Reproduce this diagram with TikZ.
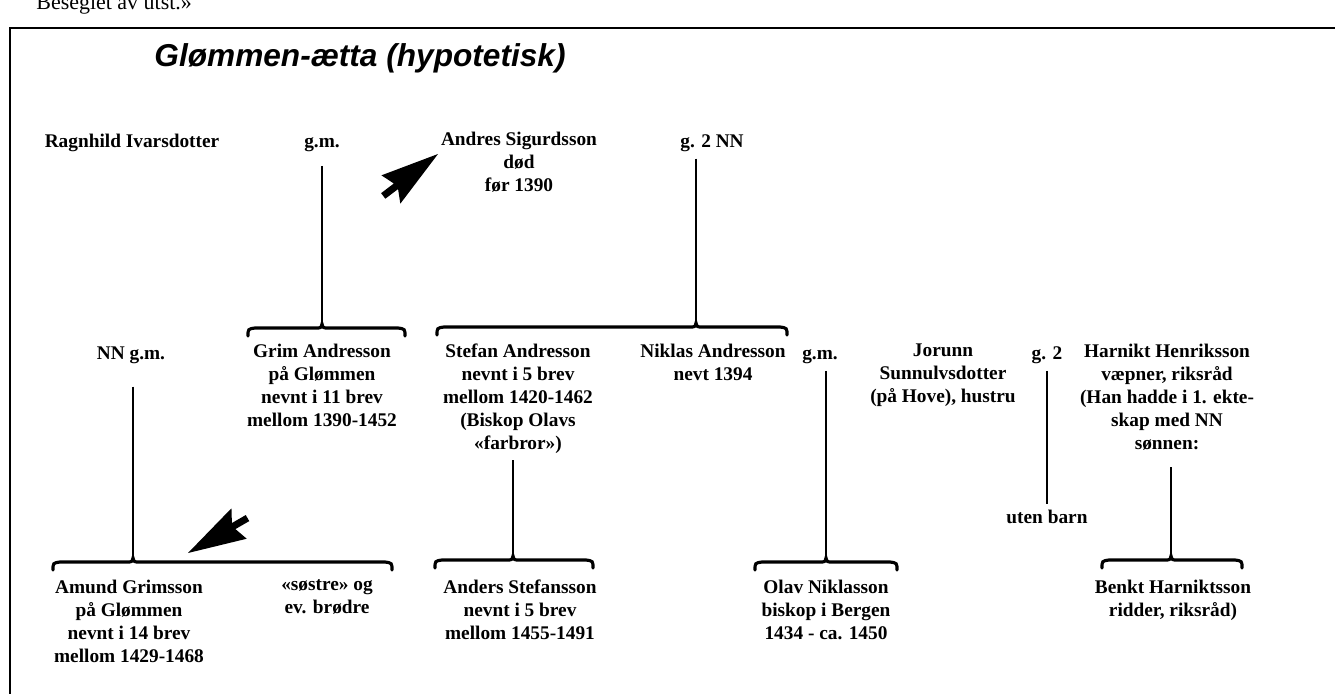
\documentclass[tikz,border=0pt]{standalone}
\usepackage{fontspec}
\setmainfont{Liberation Serif}
\newfontfamily\titlefont{Liberation Sans}
\usepackage{tikz}
\usetikzlibrary{positioning}

\begin{document}
\begin{tikzpicture}[x=0.02cm,y=-0.02cm,
   person/.style={font=\bfseries\fontsize{11}{13.1}\selectfont,align=center,anchor=north,inner sep=2pt,
                  execute at begin node=\strut},
   famline/.style={line width=1.1pt},
   brace/.style={line width=1.8pt,line cap=round},
   pointer/.style={fill=black}]
  \useasboundingbox (0,0) rectangle (1335,693);
  % frame and headings
  \node[font=\fontsize{12.5}{14}\selectfont,anchor=base west,inner sep=0pt] (cut) at (36,10) {Beseglet av utst.»};
  \draw[line width=0.8pt] (1345,28) -- (10,28) -- (10,700);
  \node[font=\titlefont\bfseries\itshape\fontsize{18}{21}\selectfont] (title) at (360,58) {Glømmen-ætta (hypotetisk)};

  % first generation
  \node[person] (ragnhild) at (132,128) {Ragnhild Ivarsdotter};
  \node[person] (gm1) at (322,128) {g.m.};
  \node[person] (andres) at (519,128) {Andres Sigurdsson\\død\\før 1390};
  \node[person] (g2nn) at (712,128) {g. 2 NN};

  % second generation
  \node[person] (nngm) at (131,340) {NN g.m.};
  \node[person] (grim) at (322,340) {Grim Andresson\\på Glømmen\\nevnt i 11 brev\\mellom 1390-1452};
  \node[person] (stefan) at (518,340) {Stefan Andresson\\nevnt i 5 brev\\mellom 1420-1462\\(Biskop Olavs\\«farbror»)};
  \node[person] (niklas) at (713,340) {Niklas Andresson\\nevt 1394};
  \node[person] (gm2) at (820,340) {g.m.};
  \node[person] (jorunn) at (943,340) {Jorunn\\Sunnulvsdotter\\(på Hove), hustru};
  \node[person] (g2) at (1047,340) {g. 2};
  \node[person] (harnikt) at (1167,340) {Harnikt Henriksson\\væpner, riksråd\\(Han hadde i 1. ekte-\\skap med NN\\sønnen:};
  \node[person] (utenbarn) at (1047,504) {uten barn};

  % third generation
  \node[person] (amund) at (129,576) {Amund Grimsson\\på Glømmen\\nevnt i 14 brev\\mellom 1429-1468};
  \node[person] (sostre) at (327,576) {«søstre» og\\ev. brødre};
  \node[person] (anders) at (520,576) {Anders Stefansson\\nevnt i 5 brev\\mellom 1455-1491};
  \node[person] (olav) at (826,576) {Olav Niklasson\\biskop i Bergen\\1434 - ca. 1450};
  \node[person] (benkt) at (1173,576) {Benkt Harniktsson\\ridder, riksråd)};

  % braces over the children
  \foreach \bname/\xa/\xb/\xj/\yb in {b1/248/405/322/328, b2/437/787/696/327, b3/53/392/133/562,
                                      b4/435/593/513/560, b5/755/897/826/562, b6/1102/1242/1171/560}{
    \draw[brace] ({\xa},{\yb+8}) .. controls ({\xa},{\yb+1}) .. ({\xa+7},\yb) -- ({\xj-7},\yb)
      .. controls ({\xj-1},\yb) .. ({\xj},{\yb-4}) .. controls ({\xj+1},\yb) .. ({\xj+7},\yb)
      -- ({\xb-7},\yb) .. controls ({\xb},{\yb+1}) .. ({\xb},{\yb+8});
    \coordinate (\bname) at ({\xj},{\yb-3});
  }

  % lines of descent
  \draw[famline] ([yshift=-4pt]gm1.south) -- (b1);
  \draw[famline] (b2 |- g2nn.south) -- (b2);
  \draw[famline] ([yshift=-9pt]nngm.south -| b3) -- (b3);
  \draw[famline] (b4 |- stefan.south) -- (b4);
  \draw[famline] (gm2.south -| b5) -- (b5);
  \draw[famline] (g2) -- (utenbarn);
  \draw[famline] ([yshift=-4pt]harnikt.south -| b6) -- (b6);

  % pointers
  \fill[pointer,shift={(438,154)},rotate=37] (0,0) -- (-60,17) -- (-53,4) -- (-69,4)
    -- (-69,-3) -- (-53,-3) -- (-58,-17) -- cycle;
  \fill[pointer,shift={(188,553)},rotate=210] (0,0) -- (-60,17) -- (-53,4) -- (-69,4)
    -- (-69,-3) -- (-53,-3) -- (-58,-17) -- cycle;
\end{tikzpicture}
\end{document}
